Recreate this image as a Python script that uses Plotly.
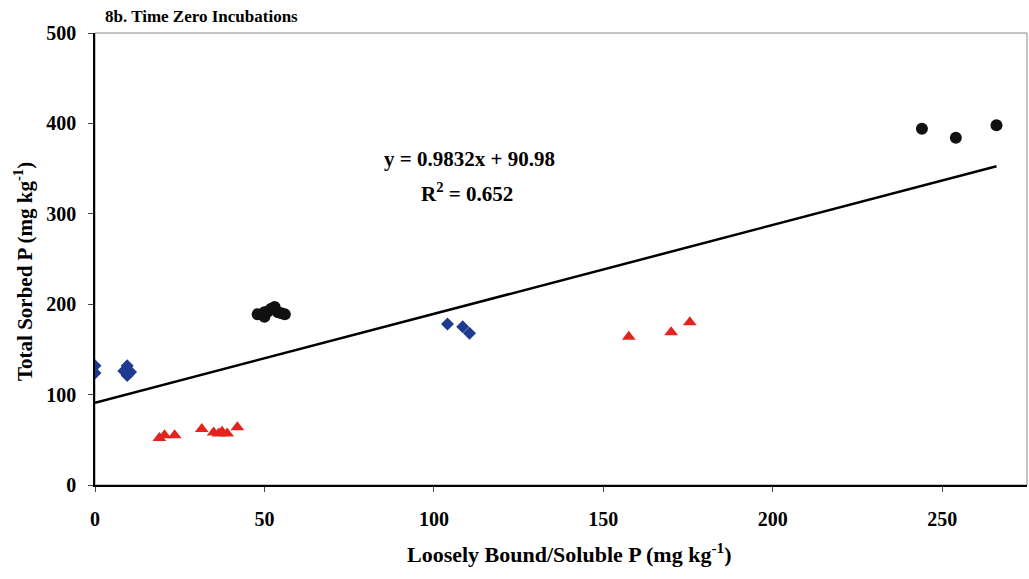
import numpy as np
import plotly.graph_objects as go

# Blue diamonds
blue_x = [0, 0, 9.5, 8.5, 10.5, 9.5, 104, 108.5, 110.5]
blue_y = [132, 124, 132, 126, 125, 121, 178, 175, 168]
# Red triangles
red_x = [19, 20.5, 23.5, 31.5, 35, 36.5, 37.5, 39, 42, 157.5, 170, 175.5]
red_y = [52, 55, 55, 62, 58, 57, 59, 57, 64, 164, 169, 180]
# Black circles
black_x = [48, 50, 50, 51, 52, 53, 54, 55, 56, 244, 254, 266]
black_y = [189, 186, 191, 192, 195, 197, 191, 190, 189, 394, 384, 398]

slope = 0.9832
intercept = 90.98
r2 = 0.652

x_ticks = [0, 50, 100, 150, 200, 250]
y_ticks = [0, 100, 200, 300, 400, 500]

FONT = "Liberation Serif"
L, R, T, B = 95, 2, 33, 94
PW = 1029 - L - R
PH = 579 - T - B


def px(x):
    return (x - L) / PW


def py(y):
    return (579 - B - y) / PH


fig = go.Figure()
fig.add_trace(go.Scatter(x=blue_x, y=blue_y, mode="markers",
                         marker=dict(symbol="diamond", size=10, color="#1f3b8f"),
                         showlegend=False))
fig.add_trace(go.Scatter(x=red_x, y=red_y, mode="markers",
                         marker=dict(symbol="triangle-up", size=12, color="#e3231c"),
                         showlegend=False))
fig.add_trace(go.Scatter(x=black_x, y=black_y, mode="markers",
                         marker=dict(symbol="circle", size=12, color="#111111"),
                         showlegend=False))

all_x = blue_x + red_x + black_x
lx = np.array([min(all_x), max(all_x)])
fig.add_trace(go.Scatter(x=lx, y=slope * lx + intercept, mode="lines",
                         line=dict(color="black", width=2.5), showlegend=False))

bold = dict(family=FONT, color="black", weight="bold")

fig.add_annotation(xref="paper", yref="paper", x=px(469), y=py(159),
                   text=f"y = {slope}x + {intercept}", showarrow=False,
                   font=dict(bold, size=21), xanchor="center", yanchor="middle")
fig.add_annotation(xref="paper", yref="paper", x=px(467), y=py(192),
                   text=f"R<sup>2</sup> = {r2}", showarrow=False,
                   font=dict(bold, size=21), xanchor="center", yanchor="middle")
fig.add_annotation(xref="paper", yref="paper", x=px(103), y=py(16),
                   text="8b. Time Zero Incubations", showarrow=False,
                   font=dict(bold, size=17), xanchor="left", yanchor="middle")
fig.add_annotation(xref="paper", yref="paper", x=px(569), y=py(553),
                   text="Loosely Bound/Soluble P (mg kg<sup>-1</sup>)", showarrow=False,
                   font=dict(bold, size=22), xanchor="center", yanchor="middle")
fig.add_annotation(xref="paper", yref="paper", x=px(23), y=py(272),
                   text="Total Sorbed P (mg kg<sup>-1</sup>)", showarrow=False,
                   textangle=-90,
                   font=dict(bold, size=21), xanchor="center", yanchor="middle")

fig.update_layout(
    width=1029, height=579,
    margin=dict(l=L, r=R, t=T, b=B),
    paper_bgcolor="white", plot_bgcolor="white",
    font=dict(family=FONT, color="black"),
    xaxis=dict(range=[0, 275], tickvals=x_ticks, ticks="outside", ticklen=5,
               showline=True, linecolor="black", linewidth=1.5,
               showgrid=False, zeroline=False,
               tickfont=dict(bold, size=20),
               ticklabelstandoff=10),
    yaxis=dict(range=[0, 500], tickvals=y_ticks, ticks="outside", ticklen=5,
               showline=True, linecolor="black", linewidth=1.5,
               showgrid=False, zeroline=False,
               tickfont=dict(bold, size=20),
               ticklabelstandoff=8),
    shapes=[dict(type="rect", xref="paper", yref="paper", x0=0, y0=0, x1=1, y1=1,
                 line=dict(color="#888888", width=1), layer="below")],
)

fig.write_html("out.html")
